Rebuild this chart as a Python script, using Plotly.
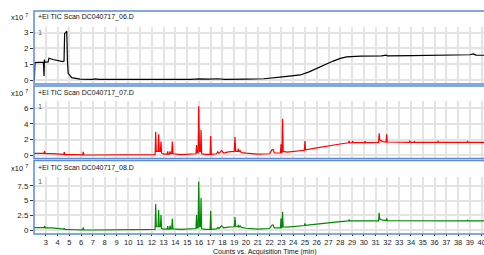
import plotly.graph_objects as go

W, H = 484, 255

# ---------------- data (values in units of 1e7 counts) ----------------
t06 = [2.0, 2.03, 2.08, 2.5, 2.8, 2.85, 2.88, 2.92, 3.2, 3.27, 3.6, 4.0, 4.45, 4.55, 4.6, 4.7, 4.78,
       4.84, 4.9, 5.2, 5.9, 7.0, 7.2, 7.5, 10.0, 12.3, 12.5, 12.7, 15.3, 16.0, 16.8, 17.6, 18.2,
       20.0, 21.5, 23.1, 24.6, 25.3, 26.0, 26.7, 27.4, 28.0, 28.55, 29.7, 31.5, 31.9, 32.0, 34.0,
       35.0, 37.0, 39.0, 39.3, 39.5, 40.2]
v06 = [0.0, 0.02, 1.1, 1.12, 1.13, 0.25, 1.3, 1.12, 1.15, 1.38, 1.3, 1.22, 1.16, 1.2, 2.95, 3.02, 3.1,
       1.2, 0.42, 0.15, 0.06, 0.04, 0.07, 0.04, 0.03, 0.03, 0.06, 0.03, 0.04, 0.07, 0.05, 0.08, 0.04,
       0.05, 0.08, 0.2, 0.32, 0.5, 0.74, 0.98, 1.2, 1.37, 1.47, 1.52, 1.53, 1.58, 1.53, 1.55,
       1.56, 1.55, 1.6, 1.65, 1.58, 1.57]

t07 = [2.0, 2.85, 2.9, 2.95, 3.5, 4.0, 4.52, 4.57, 4.62, 5.5, 6.13, 6.18, 6.23, 7.0, 9.0, 11.0, 12.2,
       12.28, 12.33, 12.38, 12.53, 12.58, 12.63, 12.73, 12.78, 12.83, 13.0, 13.3, 13.35, 13.4, 13.5,
       13.55, 13.6, 13.69, 13.74, 13.8, 14.5, 15.5, 15.75, 15.8, 15.85, 15.93, 15.98, 16.05, 16.13,
       16.18, 16.23, 16.5, 16.95, 17.0, 17.05, 17.5, 17.6, 17.7, 17.93, 18.1, 18.5, 19.0, 19.06,
       19.12, 19.3, 19.35, 19.4, 19.5, 19.6, 20.0, 21.0, 22.0, 22.2, 22.3, 22.4, 22.92, 22.97, 23.02,
       23.05, 23.1, 23.15, 23.5, 24.5, 24.95, 25.0, 25.05, 26.0, 26.85, 28.0, 28.7, 28.75, 28.8,
       29.0, 29.05, 29.1, 30.05, 30.1, 30.15, 31.25, 31.3, 31.35, 31.6, 31.89, 31.94, 31.99, 33.85,
       33.9, 33.95, 34.25, 34.3, 34.35, 36.25, 36.3, 36.35, 38.75, 38.8, 38.85, 40.2]
v07 = [0.25, 0.25, 0.55, 0.22, 0.22, 0.15, 0.12, 0.4, 0.1, 0.08, 0.07, 0.45, 0.06, 0.04, 0.03, 0.04, 0.06,
       0.1, 3.0, 0.5, 0.5, 2.7, 0.5, 0.5, 1.75, 0.3, 0.15, 0.15, 0.5, 0.15, 0.15,
       0.5, 0.2, 0.2, 1.75, 0.2, 0.1, 0.15, 0.2, 1.3, 0.3, 0.3, 6.25, 0.5, 0.5,
       3.23, 0.2, 0.12, 0.12, 2.46, 0.12, 0.2, 0.45, 0.25, 0.6, 0.3, 0.45, 0.5, 2.34,
       0.5, 0.5, 0.85, 0.45, 0.6, 0.35, 0.28, 0.15, 0.2, 0.7, 0.75, 0.3, 0.3, 1.4, 0.3,
       0.4, 4.67, 0.5, 0.42, 0.55, 0.65, 1.83, 0.7, 0.95, 1.19, 1.45, 1.6, 1.85, 1.6,
       1.62, 1.85, 1.62, 1.63, 1.8, 1.63, 1.65, 2.8, 1.95, 1.75, 1.7, 2.68, 1.7, 1.65,
       1.85, 1.65, 1.65, 1.8, 1.65, 1.65, 1.78, 1.65, 1.65, 1.78, 1.65, 1.65]

t08 = [2.0, 2.85, 2.9, 2.95, 3.5, 4.0, 4.52, 4.57, 4.62, 5.5, 6.13, 6.18, 6.23, 7.0, 9.0, 11.0, 12.2,
       12.28, 12.33, 12.38, 12.53, 12.58, 12.63, 12.73, 12.78, 12.83, 13.0, 13.3, 13.35, 13.4, 13.5,
       13.55, 13.6, 13.69, 13.74, 13.8, 14.5, 15.5, 15.75, 15.8, 15.85, 15.93, 15.98, 16.05, 16.13,
       16.18, 16.23, 16.5, 16.95, 17.0, 17.05, 17.5, 17.6, 17.7, 17.93, 18.1, 18.5, 19.0, 19.06,
       19.12, 19.3, 19.35, 19.4, 19.5, 19.6, 20.0, 21.0, 22.0, 22.2, 22.3, 22.4, 22.92, 22.97, 23.02,
       23.05, 23.1, 23.15, 23.5, 24.5, 24.95, 25.0, 25.05, 26.0, 27.0, 28.0, 28.7, 28.75, 28.8,
       29.0, 30.05, 30.1, 30.15, 31.25, 31.3, 31.35, 31.6, 31.89, 31.94, 31.99, 33.85, 33.9, 33.95,
       34.25, 34.3, 34.35, 36.25, 36.3, 36.35, 38.75, 38.8, 38.85, 40.2]
v08 = [0.45, 0.45, 0.75, 0.42, 0.4, 0.3, 0.2, 0.35, 0.15, 0.1, 0.08, 0.5, 0.07, 0.05, 0.05, 0.05, 0.08,
       0.15, 4.42, 0.6, 0.6, 3.4, 0.6, 0.6, 2.57, 0.3, 0.2, 0.2, 0.7, 0.2, 0.2,
       0.8, 0.25, 0.25, 1.96, 0.25, 0.15, 0.2, 0.3, 2.57, 0.4, 0.4, 8.17, 0.6, 0.6,
       5.43, 0.25, 0.15, 0.15, 3.24, 0.15, 0.25, 0.5, 0.3, 0.75, 0.4, 0.55, 0.6, 2.24,
       0.6, 0.6, 0.9, 0.55, 0.75, 0.5, 0.35, 0.2, 0.3, 0.85, 0.9, 0.4, 0.4, 2.0, 0.4,
       0.5, 3.13, 0.6, 0.55, 0.7, 0.8, 1.17, 0.85, 1.05, 1.3, 1.45, 1.58, 1.75, 1.58,
       1.6, 1.6, 1.72, 1.6, 1.6, 2.96, 1.9, 1.7, 1.65, 2.0, 1.62, 1.6, 1.72, 1.6,
       1.6, 1.7, 1.6, 1.6, 1.7, 1.6, 1.6, 1.72, 1.6, 1.6]

titles = ["+EI TIC Scan DC040717_06.D", "+EI TIC Scan DC040717_07.D", "+EI TIC Scan DC040717_08.D"]
colors = ["#000000", "#ff0000", "#008a00"]
ytick_vals = [[0, 1, 2, 3], [0, 2, 4, 6], [0, 2.5, 5, 7.5]]
ytick_text = [["0", "1", "2", "3"], ["0", "2", "4", "6"], ["0", "2.5", "5", "7.5"]]
x_ticks = list(range(3, 41))
x_title = "Counts vs. Acquisition Time (min)"
x_range = [2.0, 40.2]

# ---------------- layout geometry (pixels) ----------------
yranges = [[-0.19, 3.36], [-0.34, 6.93], [-0.45, 8.96]]
plot_px = [(27, 83), (101, 158), (177, 233)]     # (top, bottom) of plot areas
frame_px = [(11, 84), (86, 158.5), (160.5, 234)]  # blue frames
title_y = [17, 93, 168]
one_y = [32, 106, 181]
left_px = 34

def px(x):
    return x / W

def py(y):
    return 1 - y / H

BLUE = "#5b8bd6"
FONT = "Liberation Sans, Arial, sans-serif"

fig = go.Figure()
series = [(t06, v06), (t07, v07), (t08, v08)]
for i, (t, v) in enumerate(series):
    sfx = "" if i == 0 else str(i + 1)
    fig.add_trace(go.Scatter(x=t, y=v, mode="lines", line=dict(color=colors[i], width=1.2),
                             xaxis="x" + sfx, yaxis="y" + sfx, showlegend=False,
                             hoverinfo="skip"))

layout = dict(width=W, height=H, margin=dict(l=0, r=0, t=0, b=0, autoexpand=False),
              paper_bgcolor="white", plot_bgcolor="white", showlegend=False,
              font=dict(family=FONT, size=8, color="#222"))

for i in range(3):
    sfx = "" if i == 0 else str(i + 1)
    top, bot = plot_px[i]
    xa = dict(domain=[px(left_px), 1], range=x_range, showgrid=True, gridcolor="#e4e4e4",
              gridwidth=1.5, tickvals=x_ticks, zeroline=False, showline=False,
              anchor="y" + sfx, fixedrange=True, automargin=False)
    if i == 2:
        xa.update(ticks="outside", ticklen=2, tickcolor="#333", showticklabels=True,
                  ticklabeloverflow="allow", tickfont=dict(size=7.5, color="#222"))
    else:
        xa.update(ticks="", showticklabels=False, matches="x3")
    ya = dict(domain=[py(bot), py(top)], range=yranges[i], tickvals=ytick_vals[i],
              ticktext=ytick_text[i], showgrid=True, gridcolor="#e4e4e4", gridwidth=1.5,
              zeroline=False, showline=False, ticks="outside", ticklen=3, tickcolor="#333",
              tickfont=dict(size=8, color="#222"), anchor="x" + sfx, fixedrange=True,
              automargin=False)
    layout["xaxis" + sfx] = xa
    layout["yaxis" + sfx] = ya

shapes = []
annotations = []
for i in range(3):
    ft, fb = frame_px[i]
    shapes.append(dict(type="rect", xref="paper", yref="paper", x0=px(left_px), x1=px(W + 2),
                       y0=py(fb), y1=py(ft), line=dict(color=BLUE, width=1.5), layer="above"))
    annotations.append(dict(text=titles[i], xref="paper", yref="paper", x=px(36), y=py(title_y[i]),
                            xanchor="left", yanchor="middle", showarrow=False,
                            font=dict(size=7, color="#111")))
    annotations.append(dict(text="x10 <sup>7</sup>", xref="paper", yref="paper", x=px(30),
                            y=py(title_y[i]), xanchor="right", yanchor="middle", showarrow=False,
                            font=dict(size=7.5, color="#111")))
    annotations.append(dict(text="1", xref="paper", yref="paper", x=px(35.5), y=py(one_y[i]),
                            xanchor="left", yanchor="middle", showarrow=False,
                            font=dict(size=7.5, color="#666")))

annotations.append(dict(text=x_title, xref="paper", yref="paper", x=px(264), y=py(251.5),
                        xanchor="center", yanchor="middle", showarrow=False,
                        font=dict(size=7, color="#111")))

layout["shapes"] = shapes
layout["annotations"] = annotations
fig.update_layout(**layout)

fig.write_html("out.html", config={"displayModeBar": False},
               post_script="document.body.style.margin='0px';document.body.style.overflow='hidden';")
